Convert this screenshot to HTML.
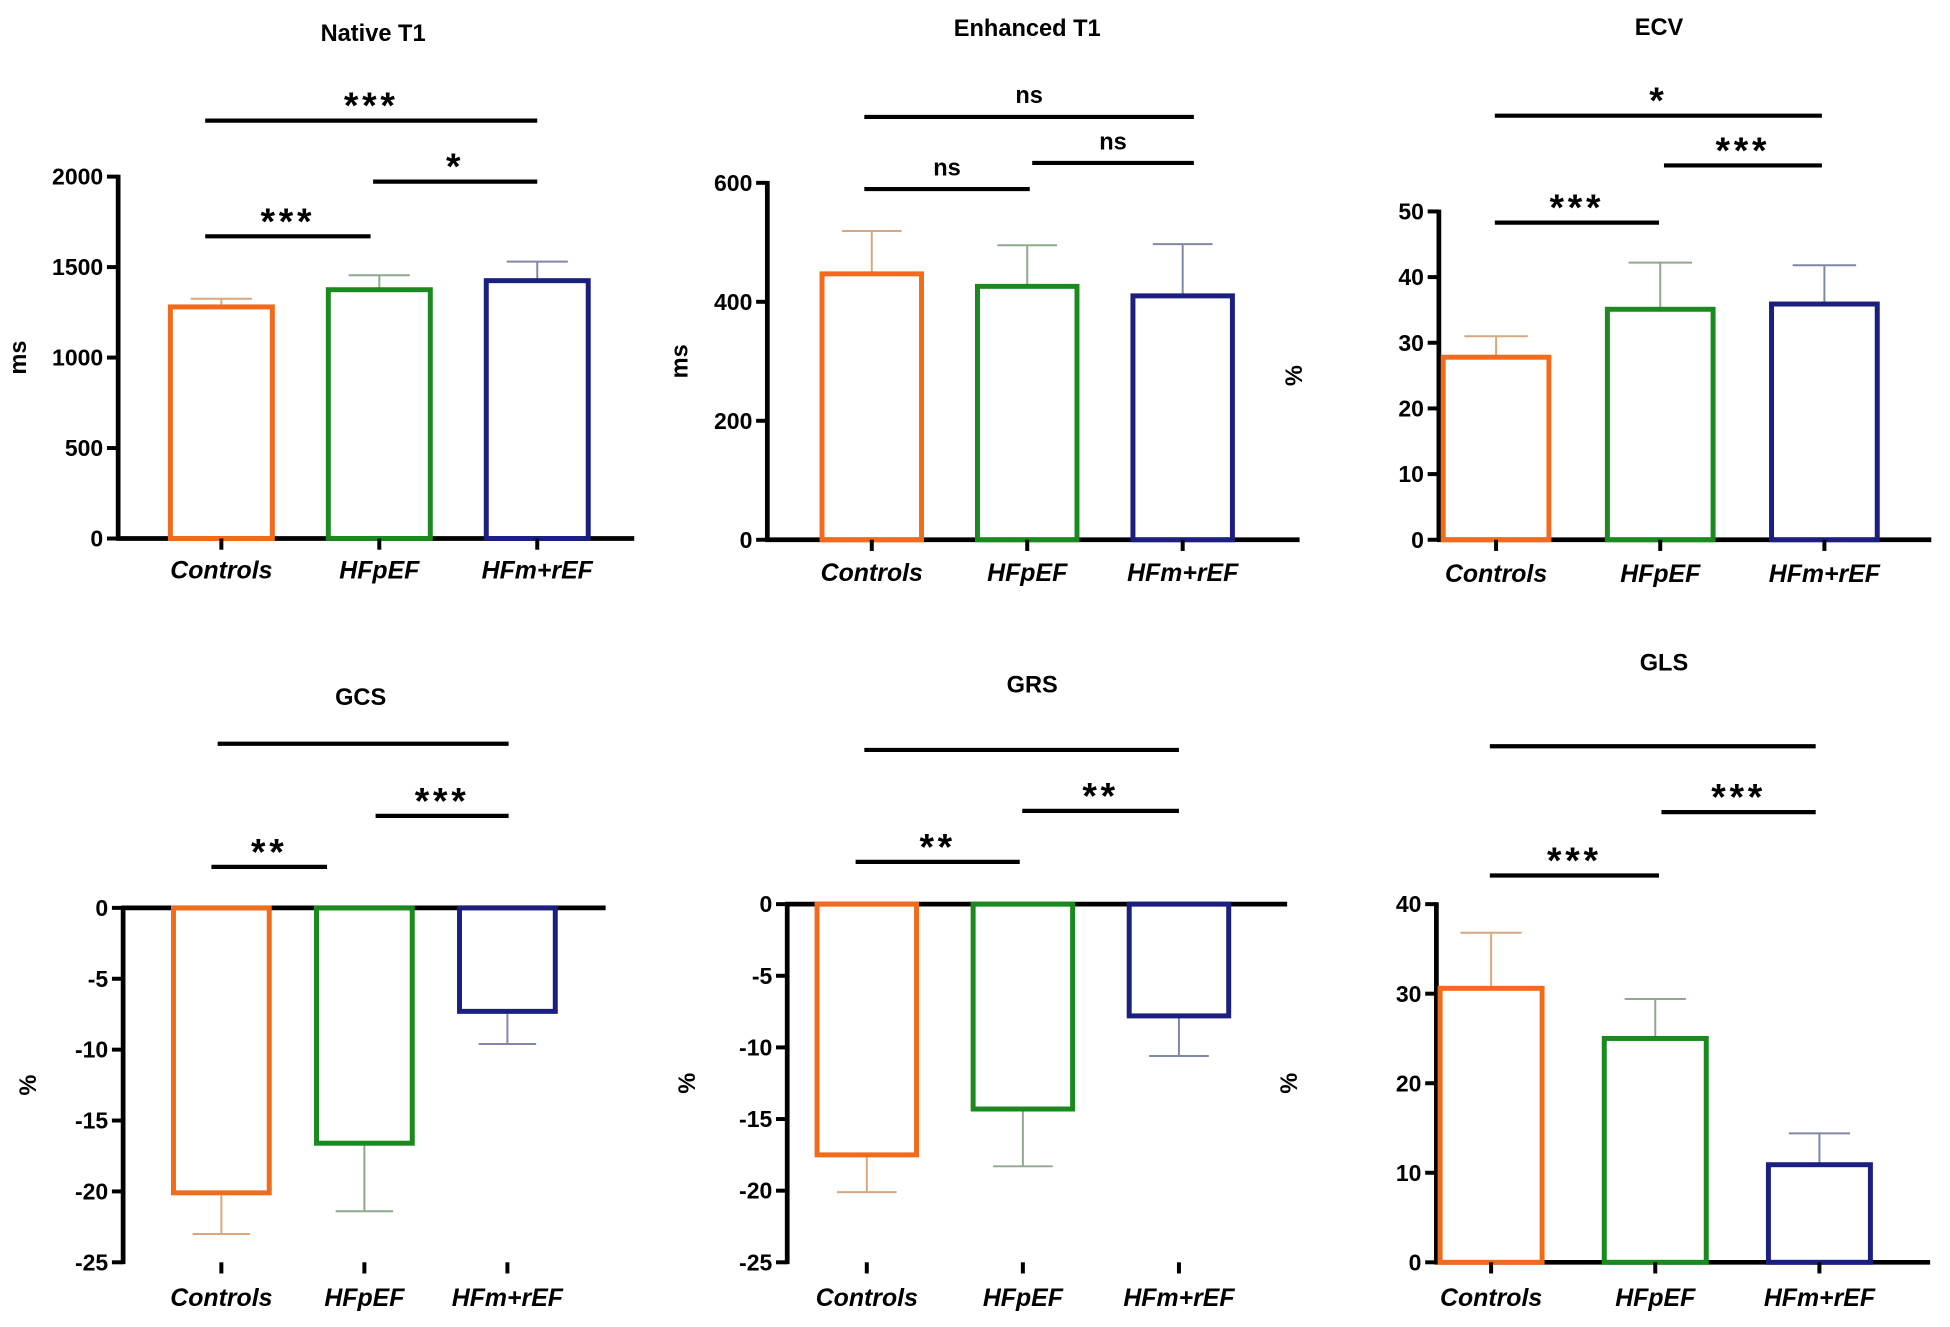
<!DOCTYPE html>
<html><head><meta charset="utf-8"><style>
html,body{margin:0;padding:0;background:#fff;}
svg{display:block;}
text{font-family:"Liberation Sans",Arial,sans-serif;font-weight:bold;fill:#000;}
</style></head><body>
<svg id="fig" width="1950" height="1327" viewBox="0 0 1568 1067" xmlns="http://www.w3.org/2000/svg"></svg>
<script>
const categories = ["Controls","HFpEF","HFm+rEF"];
const nativeT1Values = [1280,1375,1425];
const nativeT1Err = [1325,1455,1530];
const nativeT1Ticks = [0,500,1000,1500,2000];
const enhT1Values = [447,426,410];
const enhT1Err = [519,495,497];
const enhT1Ticks = [0,200,400,600];
const ecvValues = [27.8,35.1,35.9];
const ecvErr = [31,42.2,41.8];
const ecvTicks = [0,10,20,30,40,50];
const gcsValues = [-20.1,-16.6,-7.3];
const gcsErr = [-23,-21.4,-9.6];
const gcsTicks = [0,-5,-10,-15,-20,-25];
const grsValues = [-17.5,-14.3,-7.8];
const grsErr = [-20.1,-18.3,-10.6];
const grsTicks = [0,-5,-10,-15,-20,-25];
const glsValues = [30.6,25,10.9];
const glsErr = [36.8,29.4,14.4];
const glsTicks = [0,10,20,30,40];

const colors = ["#f26b1d","#1a8a1f","#1b1f80"];
const errColors = ["#d9a77f","#8fa88f","#8088a8"];
const NS = "http://www.w3.org/2000/svg";
const svg = document.getElementById('fig');

function mk(tag, attrs, parent, name, txt){
  const e = document.createElementNS(NS, tag);
  for (const k in attrs) e.setAttribute(k, attrs[k]);
  
  
  if (txt !== undefined) e.textContent = txt;
  parent.appendChild(e);
  return e;
}

function panel(cfg){
  const g = mk('g', {}, svg, cfg.id + '-panel');
  const y = v => cfg.y0px + (v - cfg.vMin) / (cfg.vMax - cfg.vMin) * (cfg.y1px - cfg.y0px);
  mk('text', {x:cfg.titleX, y:cfg.titleY, 'text-anchor':'middle', 'font-size':19}, g, cfg.id + '-title', cfg.title);
  const yTop = y(cfg.vMax), yBot = y(cfg.vMin);
  mk('line', {x1:cfg.axisX, y1:Math.min(yTop,yBot)-1.5, x2:cfg.axisX, y2:Math.max(yTop,yBot)+1.5, stroke:'#000','stroke-width':3.8}, g, cfg.id + '-y-axis');
  cfg.ticks.forEach(t => {
    const ty = y(t);
    mk('line', {x1:cfg.axisX-9, y1:ty, x2:cfg.axisX, y2:ty, stroke:'#000','stroke-width':3.2}, g, cfg.id + '-y-tick');
    mk('text', {x:cfg.axisX-12, y:ty+6.5, 'text-anchor':'end', 'font-size':18.5}, g, cfg.id + '-y-tick-label', String(t));
  });
  const ymid = (y(cfg.vMax)+y(cfg.vMin))/2;
  const tx = cfg.axisX - cfg.unitOff;
  mk('text', {x:tx, y:ymid, 'text-anchor':'middle', 'font-size':19, transform:`rotate(-90 ${tx} ${ymid})`}, g, cfg.id + '-y-axis-title', cfg.unit);
  const xAxisY = y(cfg.xAxisVal);
  mk('line', {x1:cfg.axisX-1.5, y1:xAxisY, x2:cfg.axisEnd, y2:xAxisY, stroke:'#000','stroke-width':3.8}, g, cfg.id + '-x-axis');
  const bw = cfg.barW;
  categories.forEach((c,i) => {
    const cx = cfg.firstCx + i * cfg.step;
    const v = cfg.values[i], e = cfg.err[i];
    const yv = y(v), y0 = y(0);
    mk('line', {x1:cx, y1:yv, x2:cx, y2:y(e), stroke:errColors[i], 'stroke-width':1.6}, g, cfg.id + '-error-bar-' + i);
    mk('line', {x1:cx-bw*0.3, y1:y(e), x2:cx+bw*0.3, y2:y(e), stroke:errColors[i], 'stroke-width':1.6}, g, cfg.id + '-error-cap-' + i);
    mk('rect', {x:cx-bw/2, y:Math.min(yv,y0), width:bw, height:Math.abs(y0-yv), fill:'none', stroke:colors[i], 'stroke-width':4}, g, cfg.id + '-bar-' + c.toLowerCase());
    mk('line', {x1:cx, y1:cfg.tickY0, x2:cx, y2:cfg.tickY0+9, stroke:'#000','stroke-width':3.2}, g, cfg.id + '-x-tick');
    mk('text', {x:cx, y:cfg.labelY, 'text-anchor':'middle', 'font-size':20, 'font-style':'italic'}, g, cfg.id + '-x-label', c);
  });
  cfg.sig.forEach(s => {
    mk('line', {x1:s[0], y1:s[2], x2:s[1], y2:s[2], stroke:'#000','stroke-width':3.4}, g, cfg.id + '-significance-line');
    if (s[3]) {
      const ns = s[3] === 'ns';
      mk('text', {x:(s[0]+s[1])/2, y:s[2] - (ns?11:2), 'text-anchor':'middle', 'font-size': ns?19:30, 'font-weight': ns?'normal':'bold', 'letter-spacing': ns?0:3}, g, cfg.id + '-significance-label', s[3]);
    }
  });
}

panel({id:'native-t1', title:'Native T1', titleX:300, titleY:33, unit:'ms', unitOff:74, axisX:95, axisEnd:510,
  vMin:0, vMax:2000, y0px:433, y1px:142, xAxisVal:0, ticks:nativeT1Ticks, values:nativeT1Values, err:nativeT1Err,
  firstCx:178, step:127, barW:82, tickY0:433, labelY:465,
  sig:[[165,432,97,'***'],[300,432,146,'*'],[165,298,190,'***']]});
panel({id:'enhanced-t1', title:'Enhanced T1', titleX:826, titleY:29, unit:'ms', unitOff:64, axisX:617, axisEnd:1045,
  vMin:0, vMax:600, y0px:434, y1px:147, xAxisVal:0, ticks:enhT1Ticks, values:enhT1Values, err:enhT1Err,
  firstCx:701, step:125, barW:80, tickY0:434, labelY:467,
  sig:[[695,960,94,'ns'],[695,828,152,'ns'],[830,960,131,'ns']]});
panel({id:'ecv', title:'ECV', titleX:1334, titleY:28, unit:'%', unitOff:110, axisX:1157, axisEnd:1553,
  vMin:0, vMax:50, y0px:434, y1px:170, xAxisVal:0, ticks:ecvTicks, values:ecvValues, err:ecvErr,
  firstCx:1203, step:132, barW:85, tickY0:434, labelY:468,
  sig:[[1202,1465,93,'*'],[1338,1465,133,'***'],[1202,1334,179,'***']]});
panel({id:'gcs', title:'GCS', titleX:290, titleY:567, unit:'%', unitOff:70, axisX:99, axisEnd:487,
  vMin:-25, vMax:0, y0px:1015, y1px:730, xAxisVal:0, ticks:gcsTicks, values:gcsValues, err:gcsErr,
  firstCx:178, step:115, barW:77, tickY0:1015, labelY:1050,
  sig:[[175,409,598,''],[302,409,656,'***'],[170,263,697,'**']]});
panel({id:'grs', title:'GRS', titleX:830, titleY:557, unit:'%', unitOff:74, axisX:633, axisEnd:1035,
  vMin:-25, vMax:0, y0px:1015, y1px:727, xAxisVal:0, ticks:grsTicks, values:grsValues, err:grsErr,
  firstCx:697, step:125.5, barW:80, tickY0:1015, labelY:1050,
  sig:[[695,948,603,''],[822,948,652,'**'],[688,820,693,'**']]});
panel({id:'gls', title:'GLS', titleX:1338, titleY:539, unit:'%', unitOff:112, axisX:1155, axisEnd:1552,
  vMin:0, vMax:40, y0px:1015, y1px:727, xAxisVal:0, ticks:glsTicks, values:glsValues, err:glsErr,
  firstCx:1199, step:132, barW:82, tickY0:1015, labelY:1050,
  sig:[[1198,1460,600,''],[1336,1460,653,'***'],[1198,1334,704,'***']]});
</script>
</body></html>
